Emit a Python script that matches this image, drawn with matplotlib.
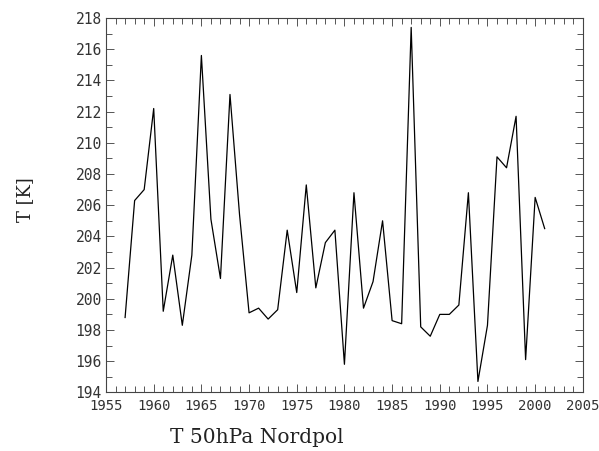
import matplotlib
matplotlib.use("Agg")
import matplotlib.pyplot as plt
from matplotlib.ticker import MultipleLocator

years = list(range(1957, 2002))
temps = [198.8, 206.3, 207.0, 212.2, 199.2, 202.8, 198.3, 202.8, 215.6, 205.1,
         201.3, 213.1, 205.4, 199.1, 199.4, 198.7, 199.3, 204.4, 200.4, 207.3,
         200.7, 203.6, 204.4, 195.8, 206.8, 199.4, 201.1, 205.0, 198.6, 198.4,
         217.4, 198.2, 197.6, 199.0, 199.0, 199.6, 206.8, 194.7, 198.3, 209.1,
         208.4, 211.7, 196.1, 206.5, 204.5]

fig = plt.figure(figsize=(5.99, 4.51), dpi=100)
ax = fig.add_axes([0.177, 0.130, 0.796, 0.830])
ax.plot(years, temps, color="black", lw=0.9)

ax.set_xlim(1955, 2005)
ax.set_ylim(194, 218)
ax.xaxis.set_major_locator(MultipleLocator(5))
ax.xaxis.set_minor_locator(MultipleLocator(1))
ax.yaxis.set_major_locator(MultipleLocator(2))
ax.yaxis.set_minor_locator(MultipleLocator(1))
ax.tick_params(which="both", direction="in", top=True, right=True,
               color="#555555", width=0.7)
ax.tick_params(which="major", length=6, labelsize=10.5, pad=3)
ax.tick_params(which="minor", length=4)
ax.tick_params(axis="x", which="major", labelsize=10, pad=5)
for lab in ax.get_xticklabels() + ax.get_yticklabels():
    lab.set_family("DejaVu Sans Mono")
    lab.set_color("#333333")
for s in ax.spines.values():
    s.set_linewidth(0.8)
    s.set_color("#444444")

fig.text(0.042, 0.557, "T [K]", rotation=90, ha="center", va="center",
         family="DejaVu Serif", fontsize=13, color="#222222")
fig.text(0.284, 0.0177, "T 50hPa Nordpol", ha="left", va="baseline",
         family="DejaVu Serif", fontsize=14.5, color="#222222")

fig.savefig("out.png", dpi=100)
